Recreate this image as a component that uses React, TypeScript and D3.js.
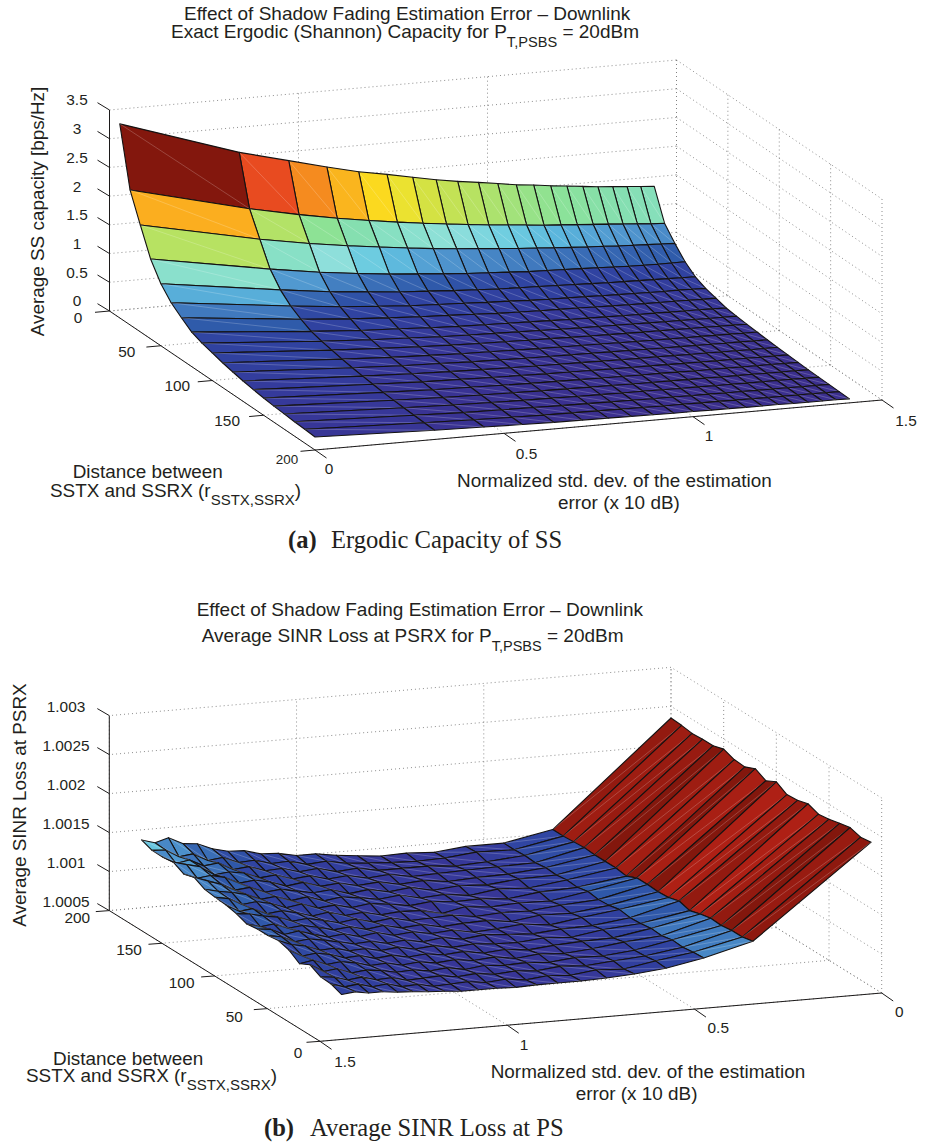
import React, { useEffect, useRef } from 'react';
import * as d3 from 'd3';

// grid of the two surfaces
const stdDev = [0, 0.316, 0.447, 0.548, 0.632, 0.707, 0.775, 0.837, 0.894, 0.949, 1, 1.049, 1.095, 1.14, 1.183, 1.225, 1.265, 1.304, 1.342, 1.378, 1.414];
const distance = [10, 20, 30, 40, 50, 60, 70, 80, 90, 100, 110, 120, 130, 140, 150, 160, 170, 180, 190, 200];

// (a) capacity, one row per distance, one column per std dev
const capacity = [
  [3.38, 2.70, 2.48, 2.31, 2.18, 2.09, 2.0, 1.92, 1.86, 1.81, 1.76, 1.71, 1.68, 1.64, 1.61, 1.58, 1.55, 1.53, 1.51, 1.49, 1.47],
  [2.35, 1.84, 1.66, 1.54, 1.45, 1.38, 1.32, 1.27, 1.23, 1.19, 1.16, 1.13, 1.10, 1.08, 1.06, 1.04, 1.02, 1.0, 0.98, 0.96, 0.95],
  [1.86, 1.43, 1.28, 1.18, 1.11, 1.05, 1.0, 0.96, 0.93, 0.90, 0.87, 0.85, 0.83, 0.81, 0.79, 0.78, 0.76, 0.75, 0.74, 0.73, 0.72],
  [1.39, 1.03, 0.90, 0.82, 0.76, 0.72, 0.68, 0.65, 0.63, 0.61, 0.59, 0.58, 0.57, 0.56, 0.55, 0.54, 0.53, 0.525, 0.52, 0.52, 0.52],
  [1.08, 0.79, 0.68, 0.62, 0.57, 0.54, 0.51, 0.49, 0.47, 0.46, 0.45, 0.44, 0.43, 0.42, 0.41, 0.405, 0.40, 0.395, 0.39, 0.385, 0.38],
  [0.87, 0.63, 0.54, 0.49, 0.45, 0.43, 0.41, 0.39, 0.38, 0.36, 0.35, 0.345, 0.34, 0.33, 0.325, 0.32, 0.315, 0.31, 0.31, 0.305, 0.30],
  [0.73, 0.52, 0.45, 0.41, 0.38, 0.36, 0.34, 0.32, 0.31, 0.30, 0.295, 0.29, 0.28, 0.275, 0.27, 0.265, 0.26, 0.26, 0.255, 0.25, 0.25],
  [0.60, 0.43, 0.37, 0.34, 0.31, 0.29, 0.28, 0.27, 0.26, 0.25, 0.24, 0.235, 0.23, 0.225, 0.22, 0.22, 0.215, 0.21, 0.21, 0.205, 0.20],
  [0.53, 0.38, 0.33, 0.30, 0.275, 0.26, 0.25, 0.24, 0.23, 0.22, 0.215, 0.21, 0.205, 0.20, 0.195, 0.19, 0.19, 0.185, 0.18, 0.18, 0.18],
  [0.48, 0.345, 0.30, 0.27, 0.25, 0.235, 0.225, 0.215, 0.21, 0.20, 0.195, 0.19, 0.185, 0.18, 0.18, 0.175, 0.17, 0.17, 0.165, 0.165, 0.16],
  [0.43, 0.31, 0.265, 0.24, 0.22, 0.21, 0.20, 0.19, 0.185, 0.18, 0.175, 0.17, 0.165, 0.16, 0.16, 0.155, 0.155, 0.15, 0.15, 0.145, 0.145],
  [0.39, 0.28, 0.24, 0.22, 0.20, 0.19, 0.18, 0.175, 0.17, 0.165, 0.16, 0.155, 0.15, 0.145, 0.145, 0.14, 0.14, 0.135, 0.135, 0.13, 0.13],
  [0.355, 0.255, 0.22, 0.20, 0.185, 0.175, 0.165, 0.16, 0.155, 0.15, 0.145, 0.14, 0.14, 0.135, 0.13, 0.13, 0.125, 0.125, 0.12, 0.12, 0.12],
  [0.325, 0.235, 0.20, 0.185, 0.17, 0.16, 0.15, 0.145, 0.14, 0.135, 0.13, 0.13, 0.125, 0.12, 0.12, 0.115, 0.115, 0.115, 0.11, 0.11, 0.11],
  [0.30, 0.215, 0.185, 0.17, 0.155, 0.145, 0.14, 0.135, 0.13, 0.125, 0.12, 0.12, 0.115, 0.11, 0.11, 0.11, 0.105, 0.105, 0.105, 0.10, 0.10],
  [0.28, 0.20, 0.17, 0.155, 0.145, 0.135, 0.13, 0.125, 0.12, 0.115, 0.11, 0.11, 0.105, 0.105, 0.10, 0.10, 0.10, 0.095, 0.095, 0.095, 0.09],
  [0.265, 0.19, 0.16, 0.145, 0.135, 0.13, 0.12, 0.115, 0.11, 0.11, 0.105, 0.10, 0.10, 0.095, 0.095, 0.09, 0.09, 0.09, 0.09, 0.085, 0.085],
  [0.25, 0.18, 0.15, 0.14, 0.13, 0.12, 0.115, 0.11, 0.105, 0.10, 0.10, 0.095, 0.095, 0.09, 0.09, 0.085, 0.085, 0.085, 0.08, 0.08, 0.08],
  [0.24, 0.17, 0.145, 0.13, 0.12, 0.115, 0.11, 0.105, 0.10, 0.095, 0.095, 0.09, 0.09, 0.085, 0.085, 0.08, 0.08, 0.08, 0.08, 0.075, 0.075],
  [0.226, 0.16, 0.14, 0.125, 0.115, 0.11, 0.105, 0.10, 0.095, 0.09, 0.09, 0.085, 0.085, 0.08, 0.08, 0.08, 0.075, 0.075, 0.075, 0.075, 0.07],
];

// (b) SINR loss, stored as (loss - 1) in units of 1e-5
const lossRaw = [
  [235, 121, 105, 96, 92, 90, 89, 89, 89, 88, 89, 89, 89, 91, 92, 94, 95, 97, 97, 100, 98],
  [233, 118, 104, 97, 90, 92, 88, 90, 87, 90, 88, 91, 90, 89, 93, 92, 97, 95, 100, 98, 103],
  [237, 118, 102, 95, 92, 89, 91, 88, 90, 88, 91, 89, 92, 91, 90, 95, 94, 99, 97, 102, 104],
  [234, 116, 103, 94, 90, 91, 88, 90, 89, 91, 88, 92, 90, 93, 92, 96, 98, 96, 103, 101, 111],
  [231, 117, 100, 96, 91, 88, 90, 87, 91, 89, 92, 90, 93, 91, 95, 94, 99, 102, 100, 107, 104],
  [229, 114, 101, 93, 92, 90, 87, 90, 88, 92, 90, 93, 91, 95, 93, 98, 97, 103, 106, 104, 113],
  [234, 110, 99, 95, 89, 91, 88, 89, 91, 89, 93, 91, 95, 93, 97, 96, 101, 100, 107, 110, 117],
  [230, 114, 98, 92, 91, 88, 90, 92, 89, 93, 90, 94, 92, 96, 95, 99, 103, 106, 104, 112, 115],
  [229, 110, 100, 94, 88, 92, 89, 87, 92, 90, 94, 92, 97, 94, 99, 97, 102, 108, 105, 113, 115],
  [237, 109, 97, 91, 92, 87, 91, 90, 88, 93, 91, 96, 93, 98, 96, 101, 105, 103, 110, 108, 113],
  [230, 110, 96, 93, 89, 90, 88, 92, 91, 90, 95, 92, 98, 95, 100, 104, 102, 109, 112, 116, 118],
  [237, 110, 98, 90, 91, 89, 92, 86, 92, 93, 91, 96, 94, 100, 97, 103, 107, 105, 113, 111, 121],
  [231, 104, 95, 93, 88, 91, 90, 93, 90, 94, 97, 94, 99, 97, 104, 101, 108, 112, 110, 119, 122],
  [232, 106, 96, 90, 92, 87, 91, 89, 95, 92, 96, 99, 96, 103, 100, 107, 105, 113, 117, 120, 124],
  [237, 106, 94, 93, 89, 91, 88, 94, 91, 96, 93, 100, 98, 102, 106, 104, 112, 110, 119, 125, 131],
  [233, 106, 95, 91, 90, 88, 92, 90, 95, 93, 98, 96, 103, 100, 107, 111, 109, 118, 122, 120, 127],
  [233, 107, 93, 92, 91, 90, 89, 94, 92, 97, 95, 101, 99, 106, 104, 112, 115, 113, 125, 129, 134],
  [232, 106, 94, 90, 88, 91, 91, 91, 96, 94, 100, 98, 104, 103, 110, 108, 118, 116, 125, 122, 132],
  [234, 105, 93, 94, 90, 89, 90, 92, 94, 99, 97, 103, 102, 108, 107, 115, 113, 123, 121, 131, 132],
  [235, 105, 93, 93, 89, 91, 90, 93, 96, 100, 100, 105, 106, 112, 113, 118, 126, 128, 137, 132, 137],
];
const sinrLoss = lossRaw.map(row => row.map(v => 1 + v * 1e-5));

const xTicks = [0, 0.5, 1, 1.5];
const xTickLabels = ['0', '0.5', '1', '1.5'];
const rTicks = [0, 50, 100, 150, 200];
const rTickLabels = ['0', '50', '100', '150', '200'];
const capTicks = [0, 0.5, 1, 1.5, 2, 2.5, 3, 3.5];
const capTickLabels = ['0', '0.5', '1', '1.5', '2', '2.5', '3', '3.5'];
const lossTicks = [1.0005, 1.001, 1.0015, 1.002, 1.0025, 1.003];
const lossTickLabels = ['1.0005', '1.001', '1.0015', '1.002', '1.0025', '1.003'];

// print version of jet, as it looks in the paper
const jetStops = [0.03, 0.09, 0.135, 0.18, 0.215, 0.257, 0.305, 0.325, 0.35, 0.38, 0.42, 0.455, 0.49, 0.545, 0.59, 0.62, 0.645, 0.685, 0.70, 0.735, 0.80, 0.90, 0.95, 1];
const jetColors = ['#3b2f8e', '#36399a', '#30409f', '#3045a2', '#2f5aaa', '#4079be', '#5199d0', '#5bb6dd', '#6ecde0', '#8fe0db', '#88e0c8', '#85dfb0', '#8ce296', '#b3e266', '#d3e244', '#ece22f', '#fbd91f', '#fab41e', '#fbab20', '#f58a1f', '#e84a20', '#c02218', '#ae2015', '#83170d'];
const jet = d3.scaleLinear<string>().domain(jetStops).range(jetColors).clamp(true);

const SANS = '"Liberation Sans", Arial, sans-serif';
const SERIF = '"Liberation Serif", "Times New Roman", serif';
const INK = '#231f20';

function addText(g, t) {
  const el = g.append('text')
    .attr('x', t.x).attr('y', t.y)
    .attr('font-family', t.family || SANS)
    .attr('font-size', t.size)
    .attr('fill', INK);
  if (t.rotate) el.attr('transform', `rotate(${t.rotate} ${t.x} ${t.y})`).attr('text-anchor', 'middle');
  if (t.bold) el.attr('font-weight', 'bold');
  if (t.wordSpacing) el.attr('word-spacing', t.wordSpacing);
  el.append('tspan').text(t.text);
  if (t.sub) {
    el.append('tspan').attr('dy', t.subDy).attr('font-size', t.subSize).text(t.sub);
    el.append('tspan').attr('dy', -t.subDy).text(t.after);
  }
}

function drawPlot(svg, c) {
  const g = svg.append('g');

  const xsx = d3.scaleLinear().domain([0, 1.5]).range([0, c.ux[0]]);
  const xsy = d3.scaleLinear().domain([0, 1.5]).range([0, c.ux[1]]);
  const rsx = d3.scaleLinear().domain([0, 200]).range([0, c.ur[0]]);
  const rsy = d3.scaleLinear().domain([0, 200]).range([0, c.ur[1]]);
  const zs = d3.scaleLinear().domain(c.zDomain).range([0, -c.zHeight]);
  const proj = (x, r, z) => [c.origin[0] + xsx(x) + rsx(r), c.origin[1] + xsy(x) + rsy(r) + zs(z)];
  const line = d3.line();
  const [zMin, zMax] = c.zDomain;

  // dotted box grid first, the surface paints over it
  const grid = [];
  c.zTicks.forEach(z => {
    grid.push([proj(0, c.wallR, z), proj(1.5, c.wallR, z)]);
    grid.push([proj(c.wallX, 0, z), proj(c.wallX, 200, z)]);
  });
  xTicks.forEach(x => {
    grid.push([proj(x, c.wallR, zMin), proj(x, c.wallR, zMax)]);
    grid.push([proj(x, 0, zMin), proj(x, 200, zMin)]);
  });
  rTicks.forEach(r => {
    grid.push([proj(c.wallX, r, zMin), proj(c.wallX, r, zMax)]);
    grid.push([proj(0, r, zMin), proj(1.5, r, zMin)]);
  });
  g.append('g').selectAll('path').data(grid).join('path')
    .attr('d', d => line(d))
    .attr('fill', 'none')
    .attr('stroke', '#808080')
    .attr('stroke-width', 0.9)
    .attr('stroke-dasharray', '1 3');

  // surface cells, back to front
  const cells = [];
  const iOrder = d3.range(distance.length - 1);
  const jOrder = d3.range(stdDev.length - 1);
  (c.viewFromLowX ? iOrder : iOrder.slice().reverse()).forEach(i => {
    (c.viewFromLowX ? jOrder.slice().reverse() : jOrder).forEach(j => {
      cells.push({ i, j });
    });
  });
  const pt = (i, j) => proj(stdDev[j], distance[i], c.values[i][j]);
  const cellG = g.append('g').selectAll('g').data(cells).join('g');
  cellG.append('path')
    .attr('d', d => line([pt(d.i, d.j), pt(d.i, d.j + 1), pt(d.i + 1, d.j + 1), pt(d.i + 1, d.j)]) + 'Z')
    .attr('fill', d => jet(c.colorPos(c.values[d.i][d.j])))
    .attr('stroke', '#141212')
    .attr('stroke-width', 1.1)
    .attr('stroke-linejoin', 'round');
  cellG.append('path')
    .attr('d', d => line([pt(d.i, d.j), pt(d.i + 1, d.j + 1)]))
    .attr('stroke', '#fff')
    .attr('stroke-opacity', 0.4)
    .attr('stroke-width', 0.5);

  // solid axes
  const axes = [
    [proj(c.zAxisAt[0], c.zAxisAt[1], zMin), proj(c.zAxisAt[0], c.zAxisAt[1], zMax)],
    [proj(c.zAxisAt[0], 0, zMin), proj(c.zAxisAt[0], 200, zMin)],
    [proj(0, c.xAxisAtR, zMin), proj(1.5, c.xAxisAtR, zMin)],
  ];
  c.zTicks.forEach(z => {
    const p = proj(c.zAxisAt[0], c.zAxisAt[1], z);
    axes.push([p, [p[0] + c.zTick[0], p[1] + c.zTick[1]]]);
  });
  rTicks.forEach(r => {
    const p = proj(c.zAxisAt[0], r, zMin);
    axes.push([p, [p[0] + c.rTick[0], p[1] + c.rTick[1]]]);
  });
  xTicks.forEach(x => {
    const p = proj(x, c.xAxisAtR, zMin);
    axes.push([p, [p[0] + c.xTick[0], p[1] + c.xTick[1]]]);
  });
  g.append('g').selectAll('path').data(axes).join('path')
    .attr('d', d => line(d))
    .attr('fill', 'none')
    .attr('stroke', '#1c1a1a')
    .attr('stroke-width', 1);

  // tick labels
  const labels = g.append('g')
    .attr('font-family', SANS).attr('fill', INK).attr('text-anchor', 'middle').attr('font-size', 15.4);
  c.zTicks.forEach((z, k) => {
    const p = proj(c.zAxisAt[0], c.zAxisAt[1], z);
    labels.append('text').attr('x', c.zLabelX).attr('y', p[1] + c.zLabelDy).attr('dy', '0.35em').text(c.zLabels[k]);
  });
  rTicks.forEach((r, k) => {
    const p = proj(c.zAxisAt[0], r, zMin);
    const el = labels.append('text').attr('x', p[0] + c.rOffsets[k][0]).attr('y', p[1] + c.rOffsets[k][1]).attr('dy', '0.35em').text(rTickLabels[k]);
    if (c.rSizes && c.rSizes[k]) el.attr('font-size', c.rSizes[k]);
  });
  xTicks.forEach((x, k) => {
    const p = proj(x, c.xAxisAtR, zMin);
    labels.append('text').attr('x', p[0] + c.xOffsets[k][0]).attr('y', p[1] + c.xOffsets[k][1]).attr('dy', '0.35em').text(xTickLabels[k]);
  });

  c.texts.forEach(t => addText(g, t));
}

const plotA = {
  origin: [109.5, 311], ux: [567, -50], ur: [205.5, 139], zHeight: 201,
  zDomain: [0, 3.5], zTicks: capTicks, zLabels: capTickLabels, values: capacity,
  colorPos: z => z / 3.38,
  wallR: 0, wallX: 1.5, zAxisAt: [0, 0], xAxisAtR: 200, viewFromLowX: true,
  zTick: [-12, -7.3], rTick: [-14.5, 1.3], xTick: [11.5, 8],
  zLabelX: 77, zLabelDy: -10,
  rOffsets: [[-31.5, 7], [-34, 5.5], [-35, 5.5], [-36.5, 5], [-28, 9]],
  rSizes: [0, 0, 0, 0, 13.4],
  xOffsets: [[14, 19], [22.5, 20], [16, 19], [24, 21]],
  texts: [
    { x: 184, y: 20, size: 19, text: 'Effect of Shadow Fading Estimation Error – Downlink' },
    { x: 171, y: 38.3, size: 19, text: 'Exact Ergodic (Shannon) Capacity for P', sub: 'T,PSBS', subSize: 14.6, subDy: 8.5, after: ' = 20dBm' },
    { x: 44, y: 211.5, size: 18.9, rotate: -90, text: 'Average SS capacity [bps/Hz]' },
    { x: 72.7, y: 478, size: 18.9, text: 'Distance between' },
    { x: 50, y: 496.5, size: 18.9, text: 'SSTX and SSRX (r', sub: 'SSTX,SSRX', subSize: 15, subDy: 8.5, after: ')' },
    { x: 457, y: 487, size: 18.9, text: 'Normalized std. dev. of the estimation' },
    { x: 558, y: 509, size: 18.9, text: 'error (x 10 dB)' },
    { x: 288, y: 548, size: 24.6, bold: true, family: SERIF, text: '(a)' },
    { x: 331, y: 548, size: 24.6, family: SERIF, text: 'Ergodic Capacity of SS' },
  ],
};

const plotB = {
  origin: [881.7, 993], ux: [-561.7, 48.3], ur: [-210.7, -130.7], zHeight: 195,
  zDomain: [1.0005, 1.003], zTicks: lossTicks, zLabels: lossTickLabels, values: sinrLoss,
  colorPos: z => (z - 1.00076) / 0.00161,
  wallR: 200, wallX: 0, zAxisAt: [1.5, 200], xAxisAtR: 0, viewFromLowX: false,
  zTick: [-12, -7], rTick: [-13.5, 1], xTick: [11.5, 8],
  zLabelX: 66, zLabelDy: -9.3,
  rOffsets: [[-22, 11], [-33, 8], [-33, 6.5], [-33, 6], [-32, 7.5]],
  xOffsets: [[17.6, 18.7], [23.8, 18.7], [16.8, 19], [25, 20.7]],
  texts: [
    { x: 196.7, y: 615.5, size: 19, text: 'Effect of Shadow Fading Estimation Error – Downlink' },
    { x: 201.7, y: 642, size: 19, text: 'Average SINR Loss at PSRX for P', sub: 'T,PSBS', subSize: 14.5, subDy: 9, after: ' = 20dBm' },
    { x: 26, y: 805, size: 18.9, rotate: -90, text: 'Average SINR Loss at PSRX' },
    { x: 53, y: 1064.5, size: 18.9, text: 'Distance between' },
    { x: 26, y: 1081.5, size: 18.9, text: 'SSTX and SSRX (r', sub: 'SSTX,SSRX', subSize: 15, subDy: 8, after: ')' },
    { x: 490.7, y: 1077.5, size: 18.9, text: 'Normalized std. dev. of the estimation' },
    { x: 575.7, y: 1099.5, size: 18.9, text: 'error (x 10 dB)' },
    { x: 264, y: 1136, size: 24.6, bold: true, family: SERIF, text: '(b)' },
    { x: 310, y: 1136, size: 24.6, family: SERIF, text: 'Average SINR Loss at PS' },
  ],
};

export default function App() {
  const ref = useRef(null);

  useEffect(() => {
    const svg = d3.select(ref.current);
    svg.selectAll('*').remove();
    drawPlot(svg, plotA);
    drawPlot(svg, plotB);
  }, []);

  return (
    <svg ref={ref} width={925} height={1143} style={{ position: 'absolute', left: 0, top: 0, background: '#fff' }} />
  );
}
